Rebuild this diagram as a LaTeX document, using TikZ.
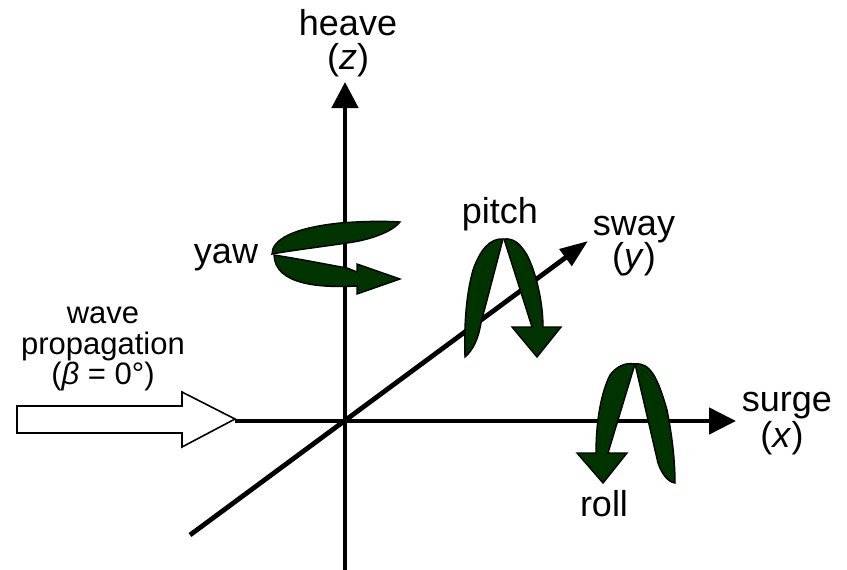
\documentclass[tikz,border=0pt]{standalone}
\usepackage{fontspec}
\setmainfont{Liberation Sans}
\usetikzlibrary{arrows.meta}
\definecolor{leaf}{HTML}{003300}
\tikzset{
  axisline/.style={line width=4.8pt,black},
  leafshape/.style={draw=black,fill=leaf,line width=1.4pt,line join=miter},
  biglabel/.style={font=\fontsize{36}{36}\selectfont,inner sep=0pt,anchor=base},
  smalllabel/.style={font=\fontsize{31}{31}\selectfont,inner sep=0pt,anchor=base}
}
\begin{document}
\begin{tikzpicture}[x=1pt,y=-1pt]
\useasboundingbox (0,0) rectangle (847,570);
% axis ends
\coordinate (zs) at (345,570);
\coordinate (zt) at (345,82);
\coordinate (xs) at (235,421);
\coordinate (xt) at (736,421);
\coordinate (ys) at (190,535);
\coordinate (yt) at (588,241);
\draw[axisline,-{Triangle[length=26pt,width=26pt,sep=0pt]}] (zs) -- (zt);
\draw[axisline,-{Triangle[length=27pt,width=26pt,sep=0pt]}] (xs) -- (xt);
\draw[axisline,-{Triangle[length=28pt,width=20pt,sep=0pt]}] (ys) -- (yt);
% wave arrow
\draw[draw=black,fill=white,line width=1.6pt,miter limit=10]
  (17,406) -- (182,406) -- (182,392) -- (235,419) -- (182,447) -- (182,433) -- (17,433) -- cycle;
% yaw
\draw[leafshape] (272,254) .. controls (272,240) and (292,228) .. (340,223)
  .. controls (365,221) and (385,221) .. (400,222)
  .. controls (392,232) and (370,240) .. (347,243)
  .. controls (320,247) and (295,250) .. (272,254) -- cycle;
\draw[leafshape] (274,255) .. controls (300,259) and (330,265) .. (347,268)
  -- (357,272) -- (357,264) -- (400,279) -- (357,294) -- (357,286)
  .. controls (320,288) and (275,285) .. (274,255) -- cycle;
% pitch
\draw[leafshape] (503,239) .. controls (490,238) and (480,250) .. (473,270)
  .. controls (466,295) and (464,325) .. (465,357)
  .. controls (473,350) and (478,340) .. (481,323) -- cycle;
\draw[leafshape] (504,239) -- (532,327) -- (512,327) -- (537,357) -- (561,327) -- (543,327)
  .. controls (543,300) and (535,270) .. (527,255)
  .. controls (520,243) and (513,238) .. (504,239) -- cycle;
% roll
\draw[leafshape] (635,364) .. controls (650,362) and (658,378) .. (667,410)
  .. controls (672,435) and (675,460) .. (675,483)
  .. controls (667,482) and (661,472) .. (658,463) -- cycle;
\draw[leafshape] (635,364) -- (608,453) -- (627,453) -- (603,483) -- (577,453) -- (596,453)
  .. controls (596,425) and (600,395) .. (610,375)
  .. controls (616,367) and (625,362) .. (635,364) -- cycle;
% labels
\node[biglabel] (heave) at (348,35) {heave};
\node[biglabel] (zlab) at (348,69) {(\textit{z})};
\node[biglabel] (yaw) at (226,263) {yaw};
\node[biglabel] (pitch) at (500,223) {pitch};
\node[biglabel] (sway) at (634,235) {sway};
\node[biglabel] (ylab) at (634,268) {(\textit{y})};
\node[biglabel] (surge) at (787,411) {surge};
\node[biglabel] (xlab) at (782,447) {(\textit{x})};
\node[biglabel] (roll) at (604,516) {roll};
\node[smalllabel] (wave) at (103,323) {wave};
\node[smalllabel] (prop) at (103,354) {propagation};
\node[smalllabel] (beta) at (103,384) {(\textit{β} = 0°)};
\end{tikzpicture}
\end{document}
